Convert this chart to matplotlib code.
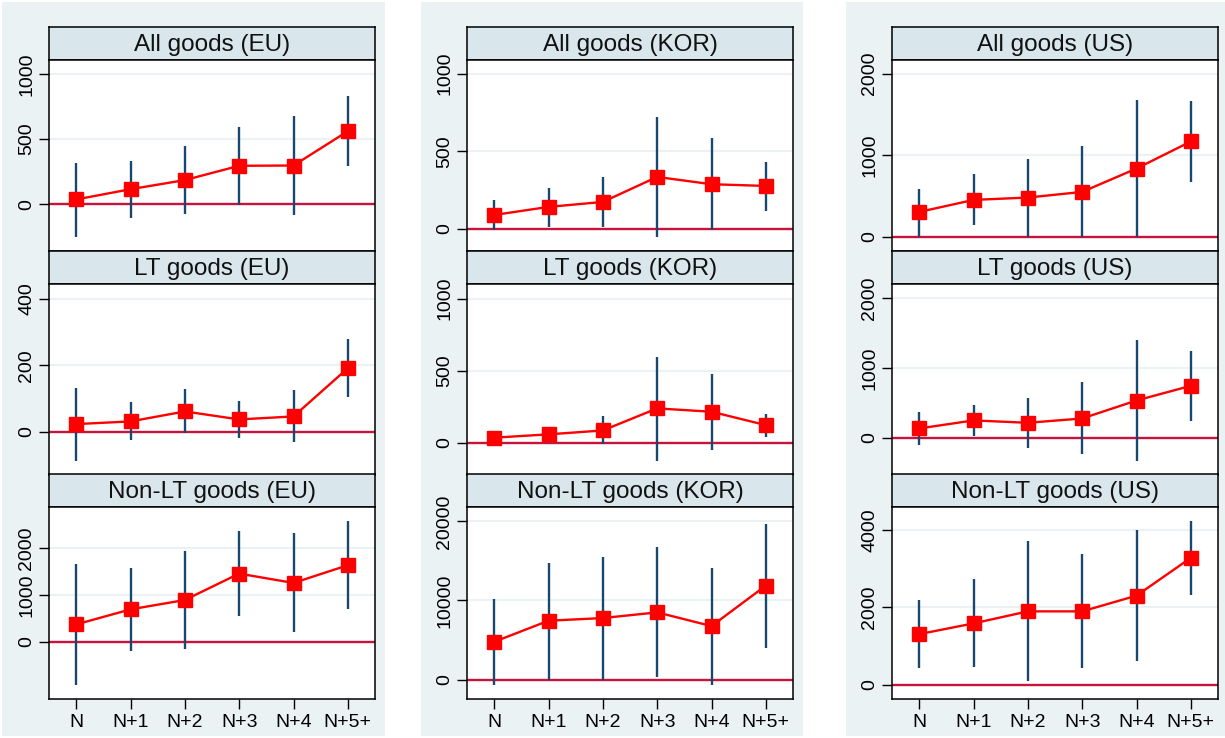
import matplotlib
matplotlib.use("Agg")
import matplotlib.pyplot as plt
from matplotlib.patches import Rectangle
import numpy as np

plt.rcParams["font.family"] = ["Liberation Sans", "DejaVu Sans"]

periods = ["N", "N+1", "N+2", "N+3", "N+4", "N+5+"]

# EU
eu_all = [36, 115, 185, 295, 297, 561]
eu_all_lo = [-251, -103, -74, -8, -82, 295]
eu_all_hi = [320, 328, 446, 592, 674, 828]

eu_lt = [23, 31, 61, 37, 46, 191]
eu_lt_lo = [-87, -25, -5, -18, -32, 104]
eu_lt_hi = [132, 88, 128, 91, 124, 278]

eu_nonlt = [371, 693, 893, 1457, 1257, 1636]
eu_nonlt_lo = [-921, -200, -150, 557, 207, 707]
eu_nonlt_hi = [1664, 1586, 1936, 2357, 2321, 2571]

# Korea
kor_all = [90, 142, 174, 335, 288, 277]
kor_all_lo = [-6, 15, 15, -52, -6, 118]
kor_all_hi = [185, 264, 333, 720, 583, 432]

kor_lt = [35, 58, 85, 238, 215, 122]
kor_lt_lo = [-9, 7, -9, -125, -51, 42]
kor_lt_hi = [72, 106, 182, 596, 478, 201]

kor_nonlt = [4778, 7442, 7780, 8499, 6765, 11881]
kor_nonlt_lo = [-634, 0, 0, 338, -634, 3974]
kor_nonlt_hi = [10148, 14799, 15476, 16744, 14122, 19662]

# United States
us_all = [303, 451, 480, 549, 836, 1168]
us_all_lo = [0, 143, 0, -8, 0, 672]
us_all_hi = [590, 766, 947, 1107, 1676, 1668]

us_lt = [133, 248, 214, 276, 533, 743]
us_lt_lo = [-100, 29, -152, -238, -329, 243]
us_lt_hi = [367, 467, 567, 800, 1405, 1238]

us_nonlt = [1304, 1581, 1892, 1892, 2298, 3274]
us_nonlt_lo = [441, 458, 95, 441, 605, 2324]
us_nonlt_hi = [2186, 2721, 3715, 3361, 4000, 4216]

columns = [
    [("All goods (EU)", eu_all, eu_all_lo, eu_all_hi, [0, 500, 1000], (-360, 1108)),
     ("LT goods (EU)", eu_lt, eu_lt_lo, eu_lt_hi, [0, 200, 400], (-130, 444)),
     ("Non-LT goods (EU)", eu_nonlt, eu_nonlt_lo, eu_nonlt_hi, [0, 1000, 2000], (-1221, 2879))],
    [("All goods (KOR)", kor_all, kor_all_lo, kor_all_hi, [0, 500, 1000], (-142, 1088)),
     ("LT goods (KOR)", kor_lt, kor_lt_lo, kor_lt_hi, [0, 500, 1000], (-224, 1101)),
     ("Non-LT goods (KOR)", kor_nonlt, kor_nonlt_lo, kor_nonlt_hi, [0, 10000, 20000], (-2452, 21817))],
    [("All goods (US)", us_all, us_all_lo, us_all_hi, [0, 1000, 2000], (-176, 2168)),
     ("LT goods (US)", us_lt, us_lt_lo, us_lt_hi, [0, 1000, 2000], (-533, 2200)),
     ("Non-LT goods (US)", us_nonlt, us_nonlt_lo, us_nonlt_hi, [0, 2000, 4000], (-371, 4587))],
]

W, H = 1225, 738
BG = "#EAF2F3"
STRIP = "#D9E6EB"
NAVY = "#1A476F"
RED = "#FF0000"
ZERO = "#C8143C"

fig = plt.figure(figsize=(W / 100, H / 100), dpi=100, facecolor="white")


def fx(x):
    return x / W


def fy(y):
    return 1 - y / H


# graph-region backgrounds of the three combined graphs
for bx0, bx1 in [(2, 385), (421, 803), (846, 1225)]:
    fig.patches.append(Rectangle((fx(bx0), fy(736)), fx(bx1 - bx0), (734) / H,
                                 transform=fig.transFigure, facecolor=BG,
                                 edgecolor="none", zorder=-10))

col_x = [(49, 375), (467, 793), (892, 1218)]
row_y = [(27, 60, 251), (251, 284, 475), (474, 507, 699)]
xpos = np.arange(len(periods))

for c, panels in enumerate(columns):
    x0, x1 = col_x[c]
    for r, (title, val, lo, hi, yt, yl) in enumerate(panels):
        st, pt, pb = row_y[r]
        # title strip
        sax = fig.add_axes([fx(x0), fy(pt), fx(x1 - x0), (pt - st) / H])
        sax.set_facecolor(STRIP)
        sax.set_xticks([])
        sax.set_yticks([])
        for sp in sax.spines.values():
            sp.set_linewidth(1.1)
            sp.set_color("black")
        sax.text(0.5, 0.46, title, ha="center", va="center", fontsize=17.5,
                 transform=sax.transAxes, color="#111111")

        ax = fig.add_axes([fx(x0), fy(pb), fx(x1 - x0), (pb - pt) / H])
        ax.set_facecolor("white")
        for sp in ax.spines.values():
            sp.set_linewidth(1.1)
            sp.set_color("black")
        ax.set_xlim(-0.5, len(periods) - 0.5)
        ax.set_ylim(*yl)
        ax.set_yticks(yt)
        ax.set_yticklabels([str(v) for v in yt], rotation=90, va="center",
                           fontsize=14)
        for v in yt:
            ax.axhline(v, color=BG, lw=1.5, zorder=1)
        ax.axhline(0, color=ZERO, lw=1.7, zorder=2)
        ax.vlines(xpos, lo, hi, color=NAVY, lw=1.7, zorder=3)
        ax.plot(xpos, val, color=RED, lw=1.7, marker="s", markersize=9.5,
                markerfacecolor=RED, markeredgecolor=RED, zorder=4)
        ax.tick_params(axis="y", length=7, width=1, pad=3, colors="black")
        if r == 2:
            ax.set_xticks(xpos)
            ax.set_xticklabels(periods, fontsize=14)
            ax.tick_params(axis="x", length=7, width=1, pad=4)
        else:
            ax.set_xticks([])

fig.savefig("out.png", dpi=100, facecolor="white")
